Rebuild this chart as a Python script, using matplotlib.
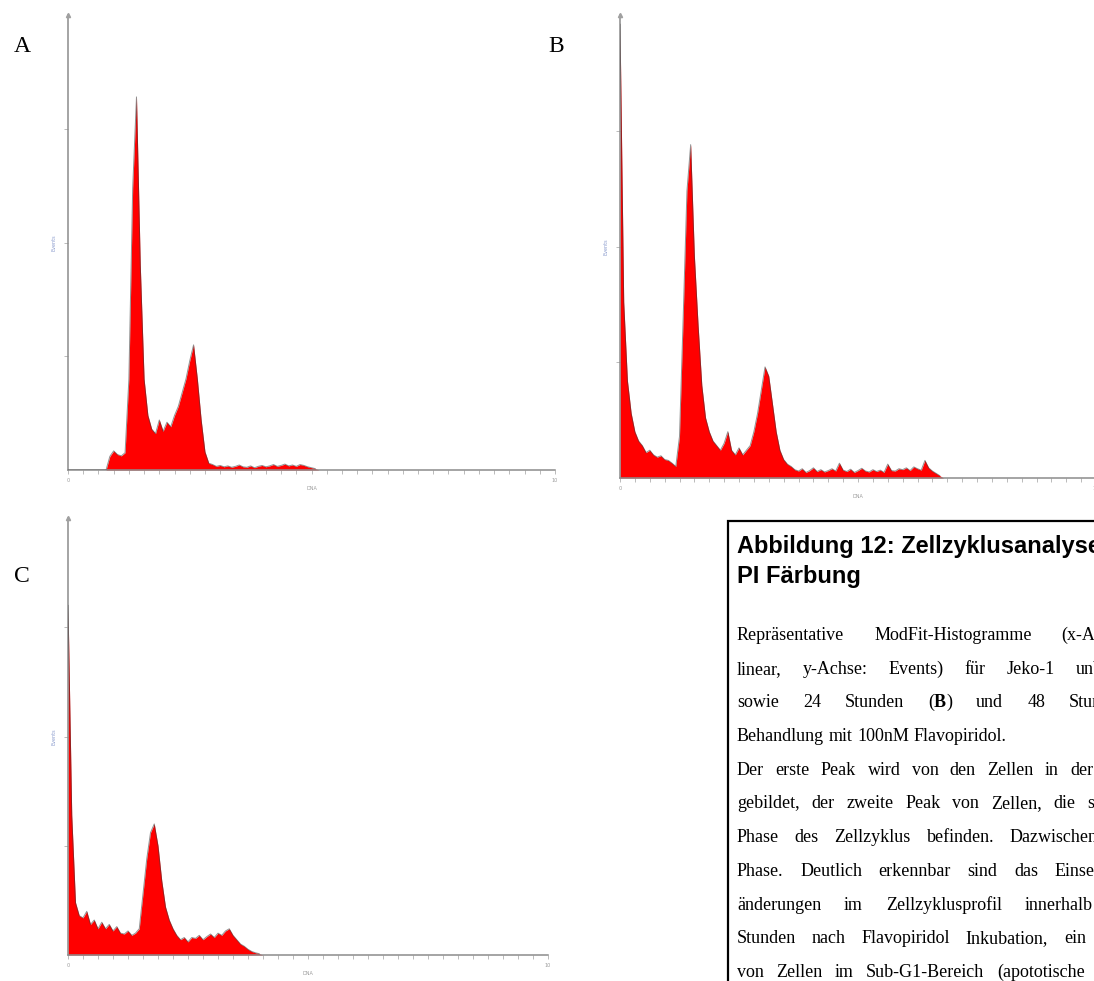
import numpy as np
import matplotlib
matplotlib.use("Agg")
import matplotlib.pyplot as plt
from matplotlib.patches import Rectangle

W, H = 1094, 981

# ModFit histograms, events per channel bin (% of axis height), 128 bins
n_bins = 128
hist_a = [0, 0, 0, 0, 0, 0, 0, 0, 0, 0, 0,
          3.0, 4.2, 3.4, 3.1, 3.8,
          20, 62, 82, 45, 20,
          12, 9, 8, 11, 8.5,
          10.5, 9.5, 12, 14, 17,
          20, 24, 27.5, 20, 11, 4, 1.5,
          1.2, 0.8, 1.0, 0.7, 0.9, 0.6, 0.8, 1.1, 0.7, 0.6,
          0.9, 0.5, 0.8, 1.0, 0.7, 0.9, 1.2, 0.8, 1.0, 1.3,
          0.9, 1.1, 0.8, 1.2, 1.0, 0.7, 0.5, 0.3]
hist_b = [98, 38, 21, 14, 10, 8, 7, 5.5, 6, 5, 4.5, 4.8, 4, 3.8, 3.2, 2.5,
          9, 35, 62, 72, 48, 33, 20, 13, 10, 8, 7, 6,
          7.5, 10, 6, 5, 6.5, 5, 6, 7, 10, 14, 19, 24, 22, 16, 10, 6, 4, 3, 2.5, 1.8,
          1.5, 2.0, 1.2, 1.6, 2.2, 1.4, 1.8, 1.3, 1.6, 2.0, 1.5, 3.2, 1.7, 1.4, 1.9,
          1.2, 1.6, 2.1, 1.5, 1.3, 1.8, 1.4, 1.7, 1.2, 3.0, 1.6, 1.5, 2.0, 1.8,
          2.2, 1.6, 2.4, 2.0, 1.7, 3.8, 2.2, 1.5, 1.0, 0.5]
hist_c = [80, 32, 12, 9, 8.5, 10, 7, 8, 6, 7.5, 6, 7, 5.5, 6.5, 5, 4.8, 5.5, 4.5, 5, 6,
          14, 22, 28, 30, 25, 17, 11, 8, 6, 4.5, 3.5,
          4, 3, 4, 3.8, 4.5, 3.5, 4.2, 4.8, 4, 5, 4.5, 5.5, 6, 4.5, 3.5, 2.5, 2,
          1.3, 0.8, 0.5, 0.3]

panels = ["A", "B", "C"]
hists = [hist_a, hist_b, hist_c]
# axes boxes in pixels: left, right, baseline, top
boxes = [(68, 555, 470, 15), (620, 1096, 478, 15), (68, 548, 955, 518)]
label_pos = [(14, 47), (548, 47), (14, 577)]

title_lines = ["Abbildung 12: Zellzyklusanalyse mittels", "PI Färbung"]
body_lines = [
    ["Repräsentative", "ModFit-Histogramme", "(x-Achse:"],
    ["linear,", "y-Achse:", "Events)", "für", "Jeko-1", "unbehandelt"],
    ["sowie", "24", "Stunden", [("(", "normal"), ("B", "bold"), (")", "normal")], "und", "48", "Stunden"],
    ["Behandlung", "mit", "100nM", "Flavopiridol."],
    ["Der", "erste", "Peak", "wird", "von", "den", "Zellen", "in", "der"],
    ["gebildet,", "der", "zweite", "Peak", "von", "Zellen,", "die", "sich"],
    ["Phase", "des", "Zellzyklus", "befinden.", "Dazwischen"],
    ["Phase.", "Deutlich", "erkennbar", "sind", "das", "Einsetzen"],
    ["änderungen", "im", "Zellzyklusprofil", "innerhalb"],
    ["Stunden", "nach", "Flavopiridol", "Inkubation,", "ein"],
    ["von", "Zellen", "im", "Sub-G1-Bereich", "(apototische"],
]
word_gaps = [30, 21, 24, 4.5, 11.3, 11.8, 15.7, 16.6, 22.8, 15.7, 12.4]

fig = plt.figure(figsize=(W / 100, H / 100), dpi=100)
fig.patch.set_facecolor("white")

for name, counts, (l, r, base, top), (lx, ly) in zip(panels, hists, boxes, label_pos):
    ax = fig.add_axes([l / W, 1 - base / H, (r - l) / W, (base - top) / H])
    y = np.concatenate([np.array(counts, float), np.zeros(n_bins - len(counts))])
    x = np.arange(n_bins)
    ax.fill_between(x, 0, y, color="#ff0000", lw=0, zorder=2)
    ax.plot(x[:len(counts)], y[:len(counts)], color="#3a3a3a", lw=0.7, alpha=0.55, zorder=3)
    ax.set_xlim(0, n_bins)
    ax.set_ylim(0, 100)
    for s in ["top", "right"]:
        ax.spines[s].set_visible(False)
    for s in ["left", "bottom"]:
        ax.spines[s].set_color("#8c8c8c")
        ax.spines[s].set_linewidth(1.1)
    ax.set_xticks([0, n_bins])
    ax.set_xticklabels(["0", "10"], fontsize=3.5, color="#9a9a9a")
    ax.set_xticks(np.arange(0, n_bins + 1, 4), minor=True)
    ax.set_yticks([25, 50, 75])
    ax.set_yticklabels([])
    ax.tick_params(axis="both", which="both", length=3, width=0.6, color="#b0b0b0", pad=3)
    ax.set_xlabel("DNA", fontsize=3.5, color="#9a9a9a", labelpad=2)
    ax.set_ylabel("Events", fontsize=3.5, color="#8899cc", labelpad=2)
    ax.plot([0], [100], marker="^", ms=3, color="#a0a0a0", clip_on=False, zorder=4)
    fig.text(lx / W, 1 - ly / H, name, fontsize=17, family="Liberation Serif",
             ha="left", va="center")

# caption frame, running past the right and bottom edges
fig.patches.append(Rectangle((728 / W, -0.05), 0.5, 1.05 - 521 / H, transform=fig.transFigure,
                             fill=False, ec="black", lw=1.6))

for i, line in enumerate(title_lines):
    fig.text(737 / W, 1 - (553 + 30 * i) / H, line, fontsize=17, fontweight="bold",
             family="Liberation Sans", ha="left", va="baseline")

renderer = fig.canvas.get_renderer()
for i, (words, gap) in enumerate(zip(body_lines, word_gaps)):
    xp = 737.0
    yb = 1 - (640 + 33.7 * i) / H
    for word in words:
        parts = word if isinstance(word, list) else [(word, "normal")]
        for text, weight in parts:
            t = fig.text(xp / W, yb, text, fontsize=13, fontweight=weight,
                         family="Liberation Serif", ha="left", va="baseline")
            xp += t.get_window_extent(renderer).width
        xp += gap

fig.savefig("out.png", dpi=100, facecolor="white")
